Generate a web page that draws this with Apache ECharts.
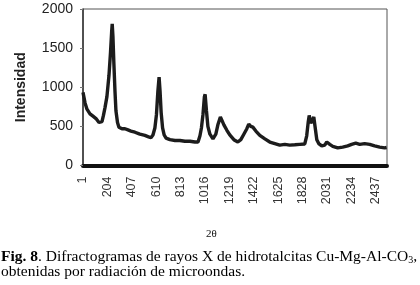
<!DOCTYPE html>
<html>
<head>
<meta charset="utf-8">
<script src="https://cdn.jsdelivr.net/npm/echarts@6/dist/echarts.min.js"></script>
<style>
html,body{margin:0;padding:0;background:#fff;}
#c{width:420px;height:285px;}
</style>
</head>
<body>
<div id="c"></div>
<script>
// Point index (x axis, "2θ" channel number) and intensity
var pointIndex = [1,18,34,59,84,109,134,146,159,171,184,200,217,230,239,244,250,258,267,275,288,300,325,350,375,400,433,474,516,541,566,583,599,612,624,634,642,651,663,676,692,724,766,807,849,891,932,958,974,986,999,1011,1017,1028,1040,1057,1082,1106,1123,1144,1156,1173,1198,1222,1256,1289,1314,1339,1364,1380,1389,1397,1414,1439,1472,1514,1555,1597,1638,1680,1721,1763,1804,1846,1862,1875,1883,1896,1904,1921,1933,1946,1962,1987,2012,2029,2041,2054,2079,2120,2161,2203,2236,2270,2303,2344,2386,2427,2469,2510,2527];
var intensity = [935,800,720,660,630,600,550,535,560,640,740,880,1150,1450,1700,1810,1650,1300,950,700,550,490,470,470,455,440,425,400,385,370,355,390,480,650,950,1130,950,680,480,390,350,330,320,320,310,310,300,300,380,480,650,880,910,700,500,400,340,400,520,620,580,520,450,390,330,300,330,400,470,530,550,500,490,440,385,340,300,280,260,270,260,265,270,275,380,560,640,540,520,620,480,330,280,250,260,300,320,270,245,225,235,250,270,285,270,280,270,250,235,225,230];
var yTicks = [0, 500, 1000, 1500, 2000];
var xFirstTick = 1, xTickStep = 203, xLast = 2530;
var yAxisTitle = 'Intensidad';
var xAxisTitle = '2θ';
var captionLine1 = '{b|Fig. 8}. Difractogramas de rayos X de hidrotalcitas Cu-Mg-Al-CO{s|3},';
var captionLine2 = 'obtenidas por radiación de microondas.';

var seriesData = pointIndex.map(function (x, i) { return [x, intensity[i]]; });

var chart = echarts.init(document.getElementById('c'), null, {renderer: 'canvas'});
chart.setOption({
  animation: false,
  backgroundColor: '#ffffff',
  grid: {left: 83, top: 9, right: 33, bottom: 119.5, show: true, borderColor: '#555', borderWidth: 1, backgroundColor: 'transparent'},
  xAxis: {
    type: 'value', min: xFirstTick, max: xLast, interval: xTickStep,
    axisLine: {show: true, lineStyle: {color: '#111', width: 4}},
    axisTick: {show: false},
    splitLine: {show: false},
    axisLabel: {rotate: 90, fontFamily: 'Liberation Sans', fontSize: 12.5, color: '#333', margin: 11, showMaxLabel: false, showMinLabel: true,
      formatter: function (v) { return String(v); }}
  },
  yAxis: {
    type: 'value', min: yTicks[0], max: yTicks[yTicks.length - 1], interval: 500,
    name: yAxisTitle, nameLocation: 'middle', nameGap: 55,
    nameTextStyle: {fontFamily: 'Liberation Sans', fontSize: 14, fontWeight: 'bold', color: '#222'},
    axisLine: {show: true, lineStyle: {color: '#333', width: 1.5}},
    axisTick: {show: true, length: 3, lineStyle: {color: '#777'}},
    splitLine: {show: false},
    axisLabel: {fontFamily: 'Liberation Sans', fontSize: 14, color: '#222', margin: 10,
      formatter: function (v) { return String(v); }}
  },
  series: [{
    type: 'line', data: seriesData, showSymbol: false, symbol: 'none',
    lineStyle: {color: '#1c1c1c', width: 3.4}
  }],
  graphic: [
    {type: 'text', left: 206, top: 229, style: {text: xAxisTitle, font: '11px "Liberation Serif"', fill: '#111'}},
    {type: 'text', left: 1, top: 249, style: {
      text: captionLine1, font: '15.5px "Liberation Serif"', fill: '#000',
      rich: {
        b: {fontFamily: 'Liberation Serif', fontSize: 15.5, fontWeight: 'bold', fill: '#000', lineHeight: 15},
        s: {fontFamily: 'Liberation Serif', fontSize: 10, verticalAlign: 'bottom', lineHeight: 10, fill: '#000'}
      }
    }},
    {type: 'text', left: 1, top: 264, style: {text: captionLine2, font: '15.5px "Liberation Serif"', fill: '#000'}}
  ]
});
</script>
</body>
</html>
